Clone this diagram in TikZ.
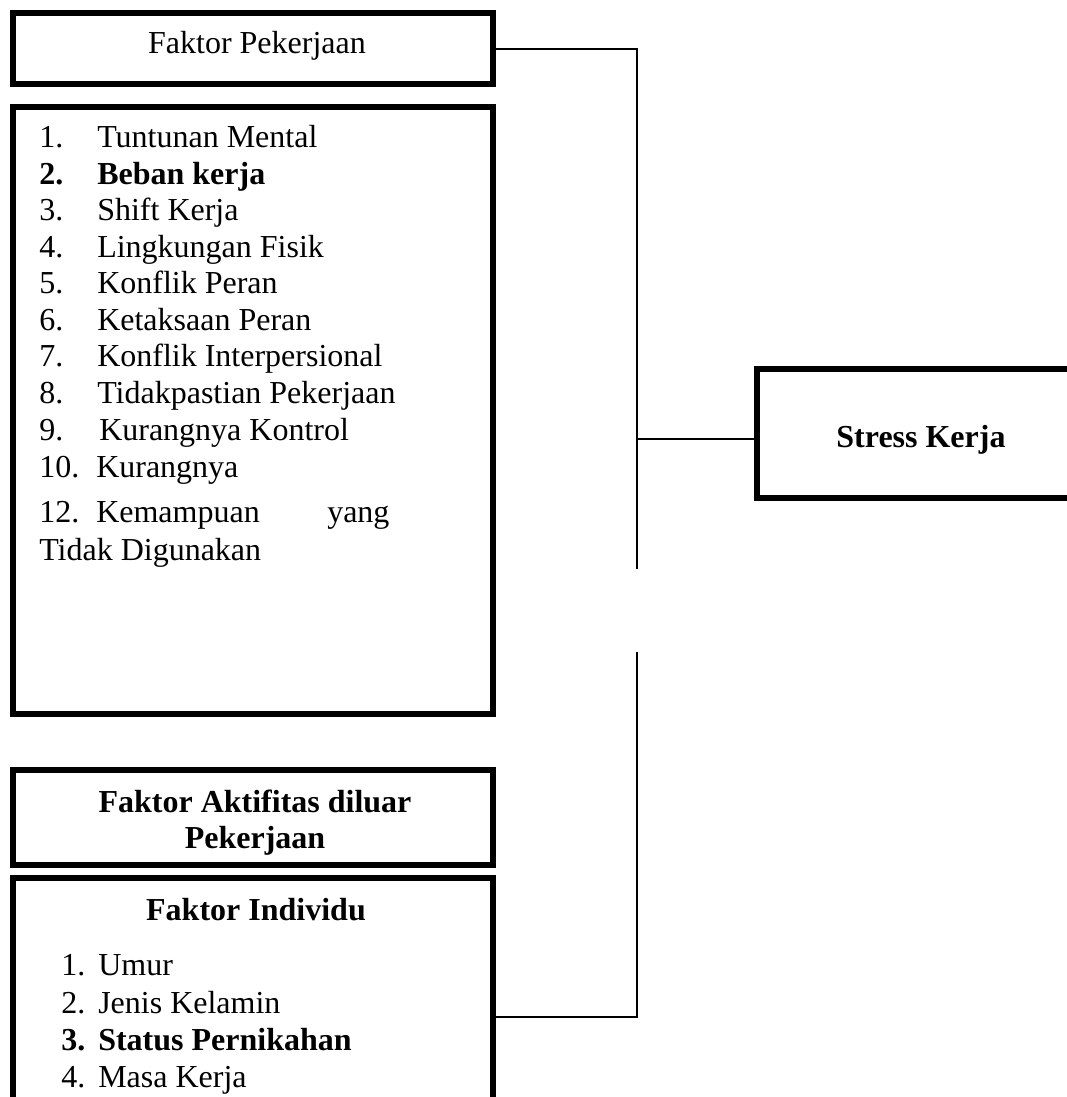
\documentclass[tikz,border=0pt]{standalone}
\usepackage{fontspec}
\setmainfont{Liberation Serif}
\begin{document}
\begin{tikzpicture}[x=0.75pt,y=-0.75pt,
  bx/.style={draw, line width=4.5pt, inner sep=0pt, minimum width=360pt},
  conn/.style={draw, line width=1.5pt},
  txt/.style={anchor=base west, inner sep=0pt, font=\fontsize{24}{28}\selectfont},
  ctxt/.style={anchor=base, inner sep=0pt, font=\fontsize{24}{28}\selectfont}]
\clip (0,0) rectangle (1067,1097);
\fill[white] (0,0) rectangle (1067,1097);
% boxes
\node[bx, minimum height=53.6pt] (b1) at (253,48.75) {};
\node[bx, minimum height=455.6pt] (b2) at (253,410.25) {};
\node[bx, minimum height=70.9pt] (b3) at (253,817.25) {};
\node[bx, minimum height=241.5pt] (b4) at (253,1039) {};
\node[bx, minimum width=246pt, minimum height=96.75pt] (sk) at (921,433.5) {};
% titles
\node[ctxt] (t1) at (257,53) {Faktor Pekerjaan};
\node[ctxt] (t3a) at (255,812) {\bfseries Faktor Aktifitas diluar};
\node[ctxt] (t3b) at (255,848) {\bfseries Pekerjaan};
\node[ctxt] (t4) at (256,920) {\bfseries Faktor Individu};
\node[ctxt] (tsk) at (921,447) {\bfseries Stress Kerja};
% list in box 2
\node[txt] (n1) at (39,147) {1.};   \node[txt] (i1) at (97,147) {Tuntunan Mental};
\node[txt] (n2) at (39,184) {\bfseries 2.}; \node[txt] (i2) at (97,184) {\bfseries Beban kerja};
\node[txt] (n3) at (39,220) {3.};   \node[txt] (i3) at (97,220) {Shift Kerja};
\node[txt] (n4) at (39,257) {4.};   \node[txt] (i4) at (97,257) {Lingkungan Fisik};
\node[txt] (n5) at (39,293) {5.};   \node[txt] (i5) at (97,293) {Konflik Peran};
\node[txt] (n6) at (39,330) {6.};   \node[txt] (i6) at (97,330) {Ketaksaan Peran};
\node[txt] (n7) at (39,366) {7.};   \node[txt] (i7) at (97,366) {Konflik Interpersional};
\node[txt] (n8) at (39,403) {8.};   \node[txt] (i8) at (97,403) {Tidakpastian Pekerjaan};
\node[txt] (n9) at (39,440) {9.};   \node[txt] (i9) at (99,440) {Kurangnya Kontrol};
\node[txt] (n10) at (39,477) {10.}; \node[txt] (i10) at (96,477) {Kurangnya};
\node[txt] (n12) at (39,522) {12.}; \node[txt] (i12) at (96,522) {Kemampuan};
\node[txt] (i12b) at (327,522) {yang};
\node[txt] (i12c) at (39,560) {Tidak Digunakan};
% list in box 4
\node[txt] (m1) at (61,975) {1.};  \node[txt] (k1) at (98,975) {Umur};
\node[txt] (m2) at (61,1013) {2.}; \node[txt] (k2) at (98,1013) {Jenis Kelamin};
\node[txt] (m3) at (61,1050) {\bfseries 3.}; \node[txt] (k3) at (98,1050) {\bfseries Status Pernikahan};
\node[txt] (m4) at (61,1087) {4.}; \node[txt] (k4) at (98,1087) {Masa Kerja};
% connectors
\coordinate (j1) at (637,569);
\coordinate (j2) at (637,652);
\coordinate (jm) at (637,439);
\coordinate (jb) at (637,1017);
\draw[conn] (b1.east) -| (j1);
\draw[conn] (jm) -- (jm -| sk.west);
\draw[conn] (j2) -- (jb) -- (jb -| b4.east);
\end{tikzpicture}
\end{document}
